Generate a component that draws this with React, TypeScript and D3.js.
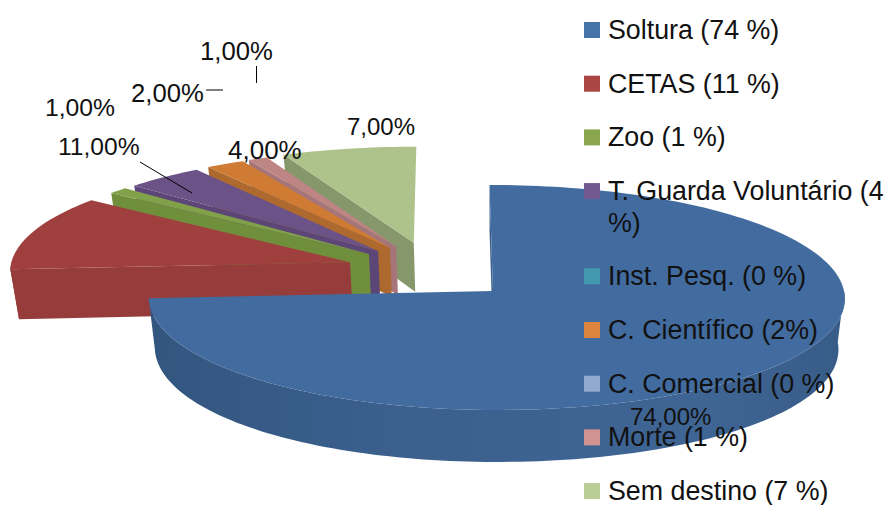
import React from "react";
import * as d3 from "d3";

const categories = ["Soltura", "CETAS", "Zoo", "T. Guarda Voluntário", "Inst. Pesq.", "C. Científico", "C. Comercial", "Morte", "Sem destino"];
const values = [74, 11, 1, 4, 0, 2, 0, 1, 7];
const legendLabels = ["Soltura (74 %)", "CETAS (11 %)", "Zoo (1 %)", "T. Guarda Voluntário (4", "Inst. Pesq. (0 %)", "C. Científico (2%)", "C. Comercial (0 %)", "Morte (1 %)", "Sem destino (7 %)"];
const legendColors = ["#4673a8", "#aa4643", "#89a54e", "#71588f", "#4198af", "#db843d", "#93a9cf", "#d19392", "#b9cd96"];
const topColors = ["#426b9f", "#a0403e", "#80a04a", "#6b5287", "#4198af", "#cf7b34", "#93a9cf", "#bd8584", "#aec38b"];
const wallColors = ["url(#blueWall)", "#963c3b", "#6f8f3d", "#5c4677", "#35798c", "#ae6a2e", "#7a8cad", "#a6757a", "#86976c"];

// perspective pie
const W = 890, H = 505;
const cx = 493, cy = 291, ryBase = 115.5, persp = 0.059, persp2 = 0.03, depth = 50.5;
const font = "'Liberation Sans', Arial, sans-serif";
const explode = 0.49;
const floorShrink = 0.982; // bottom face sits a little narrower than the top

const scaleAt = (Y: number) => 1 / (1 + persp * Y + persp2 * Y * Y);
const scaleX = (Y: number) => 1 / (1 + persp * Y + 0.5 * persp2 * Y * Y);
const project = (X: number, Y: number): [number, number] => {
  const rx = X > 0 ? 351 : 344;
  return [cx + rx * X * scaleX(Y) - 3.5 * Y, cy - ryBase * Y * scaleAt(Y)];
};
const drop = (p: [number, number], Y: number): [number, number] => [
  cx + (p[0] - cx) * floorShrink,
  p[1] + depth * scaleAt(Y),
];

const pieGen = d3.pie<number>().sort(null).startAngle(0).endAngle(2 * Math.PI);
const arcs = pieGen(values);
const line = d3.line();

// exploded slices fan out around this direction
const fanMid = (316 * Math.PI) / 180;

function slicePaths(i: number) {
  const a = arcs[i];
  const mid = (a.startAngle + a.endAngle) / 2;
  const exploded = i > 0;
  const dir = fanMid + 0.5 * (mid - fanMid);
  const ox = exploded ? explode * Math.sin(dir) : 0;
  const oy = exploded ? explode * Math.cos(dir) : 0;
  const n = Math.max(4, Math.ceil((a.endAngle - a.startAngle) * 40));
  const ts = d3.range(n + 1).map((k) => a.startAngle + ((a.endAngle - a.startAngle) * k) / n);
  const pt = (t: number): [number, number] => [ox + Math.sin(t), oy + Math.cos(t)];
  const apexU: [number, number] = [ox, oy];
  const P = (u: [number, number]) => project(u[0], u[1]);
  const D = (u: [number, number]) => drop(P(u), u[1]);
  const rim = ts.map(pt);
  const top = line([P(apexU), ...rim.map(P)]) + "Z";
  // only the front of the rim shows a wall
  const front = ts.filter((t) => Math.cos(t) < 0.02).map(pt);
  const outer = front.length > 1 ? line([...front.map(P), ...front.slice().reverse().map(D)]) + "Z" : null;
  const s0 = rim[0];
  const wall0 = line([P(apexU), P(s0), D(s0), D(apexU)]) + "Z";
  return { top, outer, wall0 };
}

// back to front
const drawOrder = [8, 7, 5, 3, 2, 1, 0];

// legend rows, T. Guarda wraps to a second line
const legendTop = 30, legendStep = 53.7, wrapExtra = 31.5;
const wrappedRow = 3;
const legendY = categories.map((_, i) => legendTop + i * legendStep + (i > wrappedRow ? wrapExtra : 0));

const dataLabels = ["74,00%", "11,00%", "1,00%", "4,00%", "2,00%", "1,00%", "7,00%"];
const labelPlace = [
  { x: 630, y: 425, size: 24 },
  { x: 58, y: 155, size: 24.6 },
  { x: 45, y: 116, size: 24.7 },
  { x: 228, y: 159, size: 26 },
  { x: 131, y: 102, size: 25.7 },
  { x: 200, y: 60, size: 25.7 },
  { x: 347, y: 135, size: 24 },
];
const leaders = [
  [[140, 162], [192, 193]],
  [[206, 90], [223, 90]],
  [[256.5, 66], [256.5, 83]],
];

export default function App() {
  return (
    <svg width={W} height={H} style={{ position: "absolute", left: 0, top: 0, background: "#fff" }}>
      <defs>
        <linearGradient id="blueWall" x1="0" x2="1" y1="0" y2="0">
          <stop offset="0" stopColor="#33567f" />
          <stop offset="0.35" stopColor="#3b608e" />
          <stop offset="0.8" stopColor="#3f6594" />
          <stop offset="1" stopColor="#385c88" />
        </linearGradient>
      </defs>
      {drawOrder.map((i) => {
        const p = slicePaths(i);
        return (
          <g key={categories[i]}>
            <path d={p.wall0} fill={wallColors[i]} />
            {p.outer && <path d={p.outer} fill={wallColors[i]} />}
            <path d={p.top} fill={topColors[i]} />
          </g>
        );
      })}
      {leaders.map((l, i) => (
        <path key={i} d={line(l as [number, number][]) as string} stroke="#000" strokeWidth={1} fill="none" />
      ))}
      {dataLabels.map((t, i) => (
        <text key={i} x={labelPlace[i].x} y={labelPlace[i].y} fontFamily={font} fontSize={labelPlace[i].size} fill="#111">
          {t}
        </text>
      ))}
      {legendLabels.map((t, i) => (
        <g key={t}>
          <rect x={584} y={legendY[i] - 8} width={16} height={16} fill={legendColors[i]} />
          <text x={608} y={legendY[i] + 9} fontFamily={font} fontSize={26.8} fill="#111">
            {t}
          </text>
          {i === wrappedRow && (
            <text x={608} y={legendY[i] + 41} fontFamily={font} fontSize={26.8} fill="#111">
              %)
            </text>
          )}
        </g>
      ))}
    </svg>
  );
}
